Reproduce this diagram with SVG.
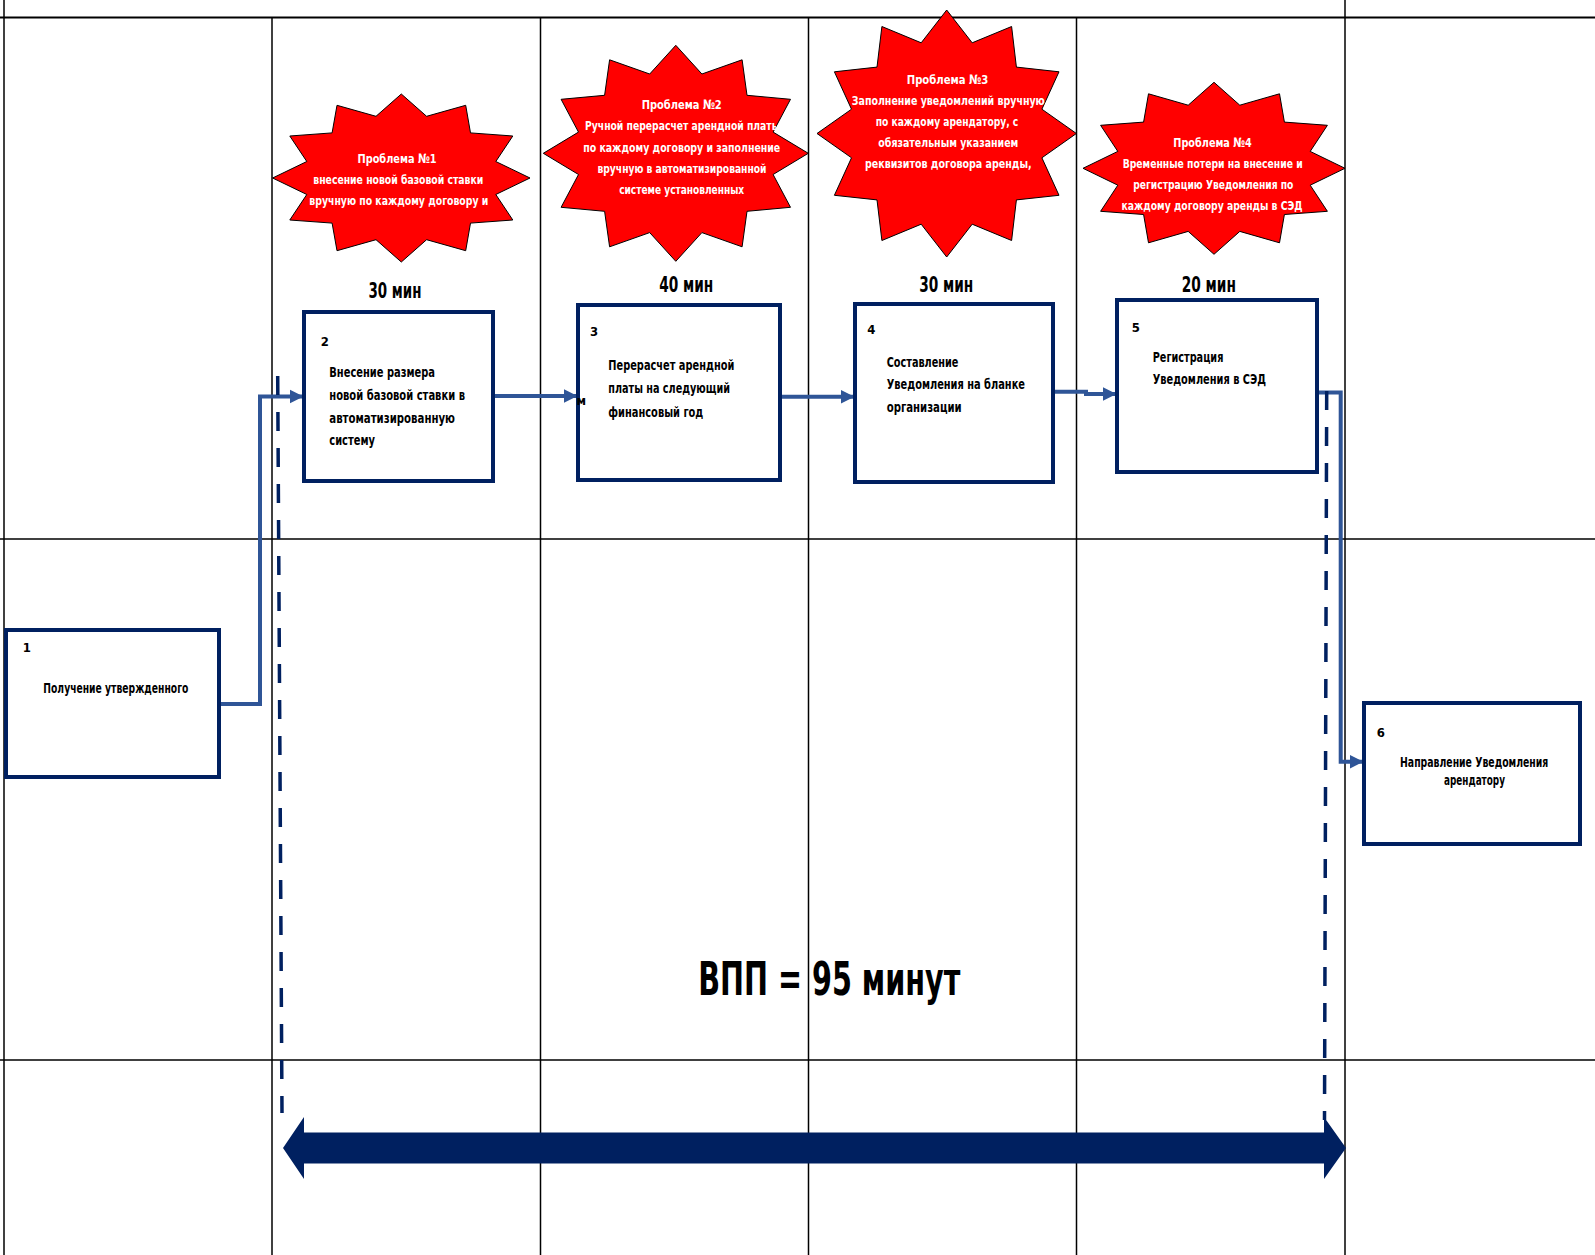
<svg xmlns="http://www.w3.org/2000/svg" width="1595" height="1255" viewBox="0 0 1595 1255">
<style>
.grid{stroke:#000;stroke-width:1.5;fill:none}
.gridt{stroke:#000;stroke-width:2.2;fill:none}
.box{fill:#fff;stroke:#002060;stroke-width:4}
.conn{fill:none;stroke:#2F5597;stroke-width:4;marker-end:url(#ah)}
.dash{fill:none;stroke:#002060;stroke-width:3.5;stroke-dasharray:19 17}
.star{fill:#FF0000;stroke:#000;stroke-width:1}
text{font-family:'Liberation Sans Narrow','DejaVu Sans Condensed','Liberation Sans',sans-serif;font-weight:bold}
.st{fill:#fff;font-size:13px;text-anchor:middle}
.bt{fill:#000;font-size:14px}
.num{fill:#000;font-size:13px}
.tm{fill:#000;font-size:22px;text-anchor:middle}
.big{fill:#000;font-size:46px}
</style>
<defs>
<marker id="ah" viewBox="0 0 10 10" refX="9" refY="5" markerWidth="3.4" markerHeight="3.8" orient="auto" markerUnits="strokeWidth">
<path d="M0,0 L10,5 L0,10 z" fill="#2F5597"/>
</marker>
<clipPath id="clip2"><rect x="540" y="112" width="236" height="26"/></clipPath>
</defs>

<g id="grid">
<line class="gridt" x1="0" y1="17.5" x2="1595" y2="17.5"/>
<line class="grid" x1="0" y1="539" x2="1595" y2="539"/>
<line class="grid" x1="0" y1="1060" x2="1595" y2="1060"/>
<line class="grid" x1="4" y1="0" x2="4" y2="1255"/>
<line class="grid" x1="1345" y1="0" x2="1345" y2="1255"/>
<line class="grid" x1="272" y1="17.5" x2="272" y2="1255"/>
<line class="grid" x1="540.5" y1="17.5" x2="540.5" y2="1255"/>
<line class="grid" x1="808.5" y1="17.5" x2="808.5" y2="1255"/>
<line class="grid" x1="1076.5" y1="17.5" x2="1076.5" y2="1255"/>
</g>

<g id="problem1">
<polygon class="star" points="401.3,94 426.6,116.3 465.7,105.3 470.5,132.9 512.8,136 495.8,161.5 530,178 495.8,194.5 512.8,220 470.5,223.1 465.7,250.7 426.6,239.7 401.3,262 376,239.7 337,250.7 332.1,223.1 289.8,220 306.8,194.5 272.6,178 306.8,161.5 289.8,136 332.1,132.9 337,105.3 376,116.3"/>
<text class="st" x="397" y="162.5" textLength="79" lengthAdjust="spacingAndGlyphs">Проблема №1</text>
<text class="st" x="398.3" y="183.5" textLength="170" lengthAdjust="spacingAndGlyphs">внесение новой базовой ставки</text>
<text class="st" x="398.8" y="204.5" textLength="179" lengthAdjust="spacingAndGlyphs">вручную по каждому договору и</text>
</g>

<g id="problem2">
<polygon class="star" points="675.8,45.3 701.9,74 742.1,59.8 747,95.3 790.5,99.3 773.1,132.1 808.3,153.3 773.1,174.5 790.5,207.3 747,211.3 742.1,246.8 701.9,232.6 675.8,261.3 649.7,232.6 609.6,246.8 604.6,211.3 561.1,207.3 578.5,174.5 543.3,153.3 578.5,132.1 561.1,99.3 604.6,95.3 609.6,59.8 649.7,74"/>
<text class="st" x="681.7" y="109" textLength="80" lengthAdjust="spacingAndGlyphs">Проблема №2</text>
<text class="st" x="682.5" y="130.3" textLength="195" lengthAdjust="spacingAndGlyphs" clip-path="url(#clip2)">Ручной перерасчет арендной платы</text>
<text class="st" x="681.7" y="151.6" textLength="197" lengthAdjust="spacingAndGlyphs">по каждому договору и заполнение</text>
<text class="st" x="682" y="172.9" textLength="169" lengthAdjust="spacingAndGlyphs">вручную в автоматизированной</text>
<text class="st" x="681.7" y="194.2" textLength="125" lengthAdjust="spacingAndGlyphs">системе установленных</text>
</g>

<g id="problem3">
<polygon class="star" points="946.7,10 972.2,42.8 1011.6,26.5 1016.4,67.1 1059,71.8 1041.9,109.2 1076.4,133.5 1041.9,157.8 1059,195.3 1016.4,199.9 1011.6,240.5 972.2,224.2 946.7,257 921.2,224.2 881.9,240.5 877,199.9 834.4,195.3 851.5,157.8 817,133.5 851.5,109.2 834.4,71.8 877,67.1 881.9,26.5 921.2,42.8"/>
<text class="st" x="947.5" y="83.5" textLength="81.6" lengthAdjust="spacingAndGlyphs">Проблема №3</text>
<text class="st" x="948.3" y="104.5" textLength="193" lengthAdjust="spacingAndGlyphs">Заполнение уведомлений вручную</text>
<text class="st" x="947" y="125.5" textLength="142.6" lengthAdjust="spacingAndGlyphs">по каждому арендатору, с</text>
<text class="st" x="948.3" y="146.5" textLength="140" lengthAdjust="spacingAndGlyphs">обязательным указанием</text>
<text class="st" x="948.3" y="167.5" textLength="166.7" lengthAdjust="spacingAndGlyphs">реквизитов договора аренды,</text>
</g>

<g id="problem4">
<polygon class="star" points="1214,82.3 1239.8,105.2 1279.5,93.8 1284.4,122.1 1327.4,125.3 1310.2,151.4 1345,168.3 1310.2,185.2 1327.4,211.3 1284.4,214.5 1279.5,242.8 1239.8,231.4 1214,254.3 1188.2,231.4 1148.5,242.8 1143.6,214.5 1100.6,211.3 1117.8,185.2 1083,168.3 1117.8,151.4 1100.6,125.3 1143.6,122.1 1148.5,93.8 1188.2,105.2"/>
<text class="st" x="1212.5" y="146.7" textLength="78.3" lengthAdjust="spacingAndGlyphs">Проблема №4</text>
<text class="st" x="1212.7" y="167.9" textLength="180" lengthAdjust="spacingAndGlyphs">Временные потери на внесение и</text>
<text class="st" x="1213.3" y="189.1" textLength="160" lengthAdjust="spacingAndGlyphs">регистрацию Уведомления по</text>
<text class="st" x="1212" y="210.3" textLength="181" lengthAdjust="spacingAndGlyphs">каждому договору аренды в СЭД</text>
</g>

<g id="times">
<text class="tm" x="395" y="298" textLength="53" lengthAdjust="spacingAndGlyphs">30 мин</text>
<text class="tm" x="686.3" y="291.7" textLength="54" lengthAdjust="spacingAndGlyphs">40 мин</text>
<text class="tm" x="946.3" y="291.7" textLength="54" lengthAdjust="spacingAndGlyphs">30 мин</text>
<text class="tm" x="1208.8" y="291.7" textLength="54.3" lengthAdjust="spacingAndGlyphs">20 мин</text>
</g>

<g id="connectors">
<polyline class="conn" points="219,704 260,704 260,396.5 302,396.5"/>
<polyline class="conn" points="493,396 576,396"/>
<polyline class="conn" points="780,396.7 853,396.7"/>
<polyline class="conn" points="1053,391.7 1086,391.7 1086,394 1115,394"/>
<polyline class="conn" points="1317,392.6 1340.7,392.6 1340.7,761.7 1362,761.7"/>
</g>

<g id="step1">
<rect class="box" x="6" y="630" width="213" height="147"/>
<text class="num" x="22.7" y="652.3">1</text>
<text class="bt" x="43.3" y="692.7" font-size="13" textLength="145" lengthAdjust="spacingAndGlyphs">Получение утвержденного</text>
</g>

<g id="step2">
<rect class="box" x="304" y="312" width="189" height="169"/>
<text class="num" x="320.7" y="346">2</text>
<text class="bt" x="329.3" y="376.5" textLength="105.7" lengthAdjust="spacingAndGlyphs">Внесение размера</text>
<text class="bt" x="329.3" y="399.5" textLength="135.7" lengthAdjust="spacingAndGlyphs">новой базовой ставки в</text>
<text class="bt" x="329.3" y="422.5" textLength="125.7" lengthAdjust="spacingAndGlyphs">автоматизированную</text>
<text class="bt" x="329.3" y="445" textLength="45.7" lengthAdjust="spacingAndGlyphs">систему</text>
</g>

<g id="step3">
<rect class="box" x="578" y="305" width="202" height="175"/>
<text class="num" x="590" y="336">3</text>
<text class="bt" x="608.3" y="370" textLength="126" lengthAdjust="spacingAndGlyphs">Перерасчет арендной</text>
<text class="bt" x="608.3" y="393.3" textLength="121.7" lengthAdjust="spacingAndGlyphs">платы на следующий</text>
<text class="bt" x="608.3" y="416.7" textLength="95" lengthAdjust="spacingAndGlyphs">финансовый год</text>
<text class="num" x="576.5" y="405" font-size="12">м</text>
</g>

<g id="step4">
<rect class="box" x="855" y="304" width="198" height="178"/>
<text class="num" x="867.3" y="334">4</text>
<text class="bt" x="886.7" y="366.7" textLength="71.7" lengthAdjust="spacingAndGlyphs">Составление</text>
<text class="bt" x="886.7" y="389.3" textLength="138.3" lengthAdjust="spacingAndGlyphs">Уведомления на бланке</text>
<text class="bt" x="886.7" y="411.7" textLength="75" lengthAdjust="spacingAndGlyphs">организации</text>
</g>

<g id="step5">
<rect class="box" x="1117" y="300" width="200" height="172"/>
<text class="num" x="1131.7" y="331.7">5</text>
<text class="bt" x="1152.7" y="361.7" textLength="70.7" lengthAdjust="spacingAndGlyphs">Регистрация</text>
<text class="bt" x="1152.7" y="384.3" textLength="113.3" lengthAdjust="spacingAndGlyphs">Уведомления в СЭД</text>
</g>

<g id="step6">
<rect class="box" x="1364" y="703" width="216" height="141"/>
<text class="num" x="1376.7" y="736.7">6</text>
<text class="bt" x="1474.2" y="766.7" font-size="13" text-anchor="middle" textLength="148.3" lengthAdjust="spacingAndGlyphs">Направление Уведомления</text>
<text class="bt" x="1474.5" y="785" font-size="13" text-anchor="middle" textLength="61" lengthAdjust="spacingAndGlyphs">арендатору</text>
</g>

<g id="span">
<line class="dash" x1="277.7" y1="376" x2="282" y2="1113"/>
<line class="dash" x1="1326.7" y1="391" x2="1324.5" y2="1120"/>
<polygon fill="#002060" points="283,1148 304,1117 304,1132.5 1324,1132.5 1324,1117 1346,1148 1324,1179 1324,1163.5 304,1163.5 304,1179"/>
<text class="big" x="698.3" y="995" textLength="262" lengthAdjust="spacingAndGlyphs">ВПП = 95 минут</text>
</g>
</svg>
